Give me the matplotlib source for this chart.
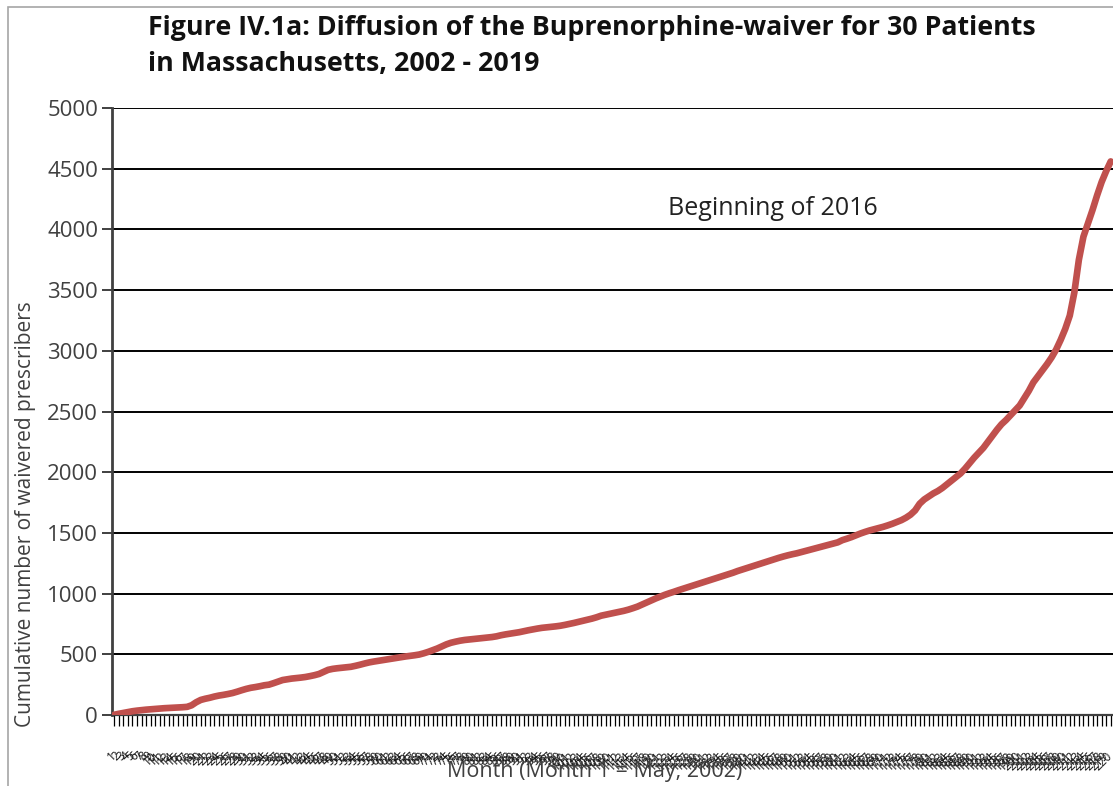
import matplotlib
matplotlib.use("Agg")
from matplotlib import pyplot as plt
from matplotlib.patches import Rectangle

# cumulative waivered prescribers, month 1 = May 2002
prescribers = [
    2, 10, 17, 24, 31, 36, 40, 44, 47, 50,
    53, 56, 58, 60, 62, 64, 67, 80, 105, 124,
    134, 142, 152, 160, 166, 173, 181, 192, 204, 215,
    224, 230, 237, 245, 250, 262, 275, 288, 294, 300,
    304, 308, 313, 320, 328, 338, 355, 372, 380, 385,
    389, 393, 397, 405, 414, 424, 433, 440, 446, 452,
    458, 464, 470, 476, 482, 487, 492, 498, 508, 520,
    534, 548, 565, 582, 595, 604, 612, 618, 622, 626,
    630, 634, 638, 642, 648, 657, 664, 670, 676, 682,
    690, 698, 705, 712, 718, 722, 726, 730, 735, 742,
    750, 758, 767, 776, 785, 794, 805, 818, 826, 834,
    842, 850, 858, 868, 880, 893, 910, 928, 945, 960,
    975, 990, 1003, 1015, 1028, 1040, 1052, 1064, 1076, 1088,
    1100, 1112, 1124, 1136, 1148, 1160, 1172, 1186, 1198, 1210,
    1222, 1234, 1246, 1258, 1270, 1282, 1294, 1305, 1315, 1324,
    1332, 1342, 1352, 1362, 1372, 1382, 1392, 1402, 1412, 1422,
    1440, 1452, 1465, 1480, 1495, 1508, 1520, 1530, 1540, 1550,
    1562, 1575, 1590, 1605, 1625, 1650, 1685, 1740, 1775, 1800,
    1825, 1845, 1870, 1900, 1930, 1960, 1990, 2030, 2075, 2120,
    2160, 2200, 2250, 2300, 2350, 2395, 2430, 2470, 2510, 2550,
    2610, 2670, 2740, 2790, 2840, 2890, 2945, 3010, 3090, 3180,
    3290, 3480, 3750, 3940, 4050, 4160, 4280, 4390, 4480, 4560,
]
months = list(range(1, len(prescribers) + 1))
y_ticks = list(range(0, 5001, 500))

title = ("Figure IV.1a: Diffusion of the Buprenorphine-waiver for 30 Patients\n"
         "in Massachusetts, 2002 - 2019")
note = "Beginning of 2016"

plt.rcParams['font.family'] = ['Open Sans', 'DejaVu Sans']

fig = plt.figure(figsize=(11.13, 7.86), dpi=100)
ax = fig.add_axes([112 / 1113, 71 / 786, 1 - 112 / 1113, (715 - 108) / 786])

# thin frame of the chart area (cut off on the right / bottom)
fig.patches.append(Rectangle((8 / 1113, -0.1), 1.2, (786 - 7) / 786 + 0.1,
                             transform=fig.transFigure, fill=False,
                             ec="#a6a6a6", lw=1.2))

ax.plot(months, prescribers, color="#C0504D", lw=4.8, solid_capstyle='round', zorder=3)

ax.set_xlim(0.5, len(months) + 0.5)
ax.set_ylim(0, 5000)
ax.set_yticks(y_ticks)
ax.yaxis.grid(True, color="black", lw=1.4)
ax.set_axisbelow(True)

ax.set_xticks(months)
ax.set_xticklabels([str(m) for m in months], rotation=45, ha='right', va='center',
                   rotation_mode='anchor', fontsize=8.5, color="#1a1a1a")
ax.tick_params(axis='x', length=8, width=0.9, color="black", pad=20)
ax.tick_params(axis='y', length=7, width=1.4, color="#404040",
               labelsize=16, labelcolor="#404040", pad=3)

for side in ['top', 'right']:
    ax.spines[side].set_visible(False)
ax.spines['left'].set_color("#404040")
ax.spines['left'].set_linewidth(2)
ax.spines['bottom'].set_color("#404040")
ax.spines['bottom'].set_linewidth(1.6)

ax.set_ylabel("Cumulative number of waivered prescribers", fontsize=15,
              color="#404040")
ax.yaxis.set_label_coords((36 - 112) / 1001, (715 - 514) / 607)

ax.text(0.555, 0.835, note, transform=ax.transAxes, fontsize=18,
        color="#222222", ha='left', va='center')

fig.text(148 / 1113, 1 - 15 / 786, title, fontsize=19.3, fontweight='bold',
         ha='left', va='top', color="#111111", linespacing=1.5)
fig.text(595 / 1113, 1 - 772 / 786, "Month (Month 1 = May, 2002)", fontsize=15.5,
         color="#404040", ha='center', va='center')

fig.savefig("out.png", dpi=100)
